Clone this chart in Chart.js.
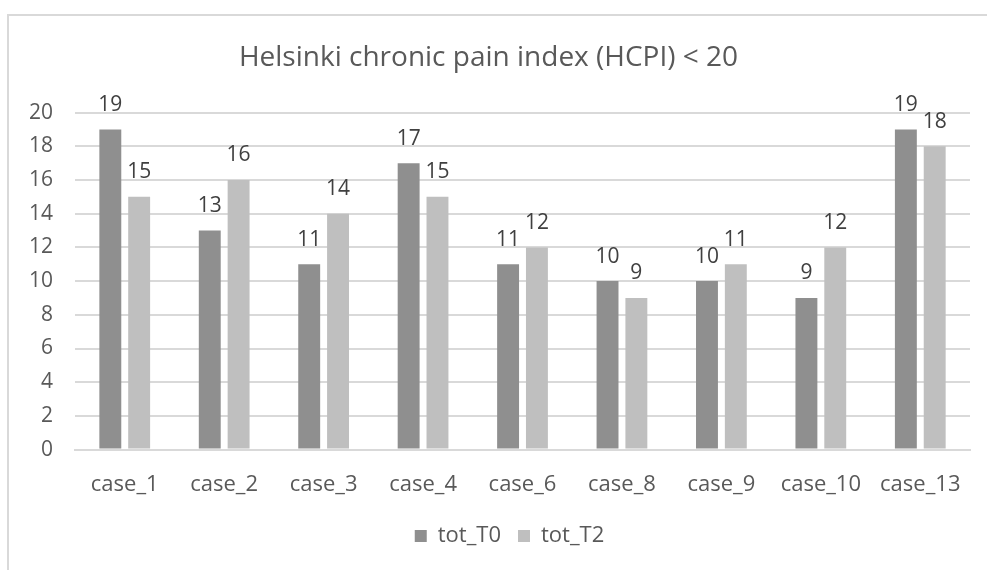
<!DOCTYPE html>
<html>
<head>
<meta charset="utf-8">
<script src="https://cdn.jsdelivr.net/npm/chart.js@4"></script>
<style>
  html, body { margin: 0; padding: 0; background: #fff; }
  #wrap { position: relative; width: 987px; height: 570px; }
</style>
</head>
<body>
<div id="wrap"><canvas id="mycanvas"></canvas></div>
<script>
var cases = ['case_1', 'case_2', 'case_3', 'case_4', 'case_6', 'case_8', 'case_9', 'case_10', 'case_13'];
var totT0 = [19, 13, 11, 17, 11, 10, 10, 9, 19];
var totT2 = [15, 16, 14, 15, 12, 9, 11, 12, 18];

var textColor = '#595959';
var fontFamily = "'Open Sans', sans-serif";

// frame lines along top and left edge (the chart box is cropped on the right and bottom)
var framePlugin = {
  id: 'frame',
  beforeDraw: function (chart) {
    var ctx = chart.ctx;
    ctx.save();
    ctx.strokeStyle = '#d9d9d9';
    ctx.lineWidth = 2;
    ctx.beginPath();
    ctx.moveTo(8, 570);
    ctx.lineTo(8, 15);
    ctx.lineTo(987, 15);
    ctx.stroke();
    ctx.restore();
  },
  // the legend sits centred on the whole (cropped) frame, a bit right of the canvas centre
  afterLayout: function (chart) {
    if (chart.legend) {
      chart.legend.left += 21;
      chart.legend.right += 21;
    }
  }
};

// value labels above each bar
var valueLabels = {
  id: 'valueLabels',
  afterDatasetsDraw: function (chart) {
    var ctx = chart.ctx;
    ctx.save();
    ctx.font = '21px ' + fontFamily;
    ctx.fillStyle = '#404040';
    ctx.textAlign = 'center';
    ctx.textBaseline = 'bottom';
    chart.data.datasets.forEach(function (ds, i) {
      chart.getDatasetMeta(i).data.forEach(function (bar, j) {
        ctx.fillText(ds.data[j], bar.x, bar.y - 14);
      });
    });
    ctx.restore();
  }
};

var chartdata = {
  labels: cases,
  datasets: [{
    label: 'tot_T0',
    backgroundColor: '#8f8f8f',
    data: totT0
  }, {
    label: 'tot_T2',
    backgroundColor: '#bfbfbf',
    data: totT2
  }]
};

var ctx = document.getElementById('mycanvas');

var barGraph = new Chart(ctx, {
  type: 'bar',
  data: chartdata,
  plugins: [framePlugin, valueLabels],
  options: {
    responsive: true,
    maintainAspectRatio: false,
    animation: false,
    datasets: {
      bar: { categoryPercentage: 0.58, barPercentage: 0.76 }
    },
    layout: { padding: { left: 7, right: 17, top: 30, bottom: 13 } },
    plugins: {
      title: {
        display: true,
        text: 'Helsinki chronic pain index (HCPI) < 20',
        color: textColor,
        font: { family: fontFamily, size: 28, weight: 'normal' },
        padding: { top: 11, bottom: 38 }
      },
      legend: {
        position: 'bottom',
        labels: {
          color: textColor,
          font: { family: fontFamily, size: 22 },
          boxWidth: 12,
          boxHeight: 12,
          padding: 17
        }
      },
      tooltip: { enabled: false }
    },
    scales: {
      x: {
        grid: { display: false, drawTicks: false },
        border: { color: '#d9d9d9', width: 2 },
        ticks: { color: textColor, font: { family: fontFamily, size: 22 }, padding: 22 },
        afterFit: function (scale) { scale.height -= 12; }
      },
      y: {
        min: 0,
        max: 20,
        grid: { color: '#d9d9d9', lineWidth: 2, drawTicks: false },
        border: { display: false },
        ticks: { stepSize: 2, color: textColor, font: { family: fontFamily, size: 21 }, padding: 22 }
      }
    }
  }
});
</script>
</body>
</html>
